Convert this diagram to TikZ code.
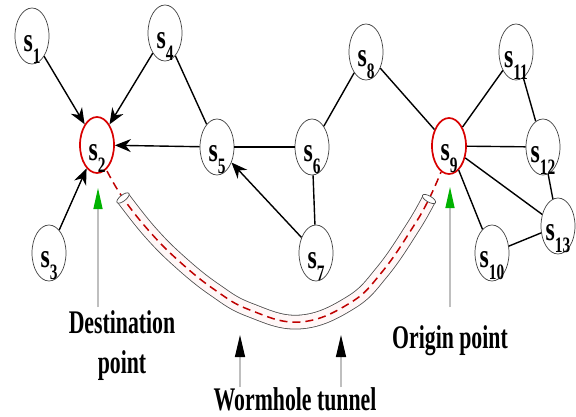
\documentclass[tikz,border=0pt]{standalone}
\usepackage{fontspec}
\usepackage{graphicx}
\setmainfont{Liberation Serif}
\usetikzlibrary{shapes.geometric,arrows.meta}
\newcommand{\snlab}[1]{\scalebox{0.7}[1]{\fontsize{34}{34}\selectfont\bfseries s\raisebox{-12pt}{\fontsize{22}{22}\selectfont #1}}}
\newcommand{\biglab}[1]{\scalebox{0.66}[1]{#1}}
\begin{document}
\begin{tikzpicture}[x=1pt,y=-1pt,
  snode/.style={ellipse, draw=black!75, line width=0.7pt, minimum width=34pt, minimum height=56pt, inner sep=0pt,
    label={[anchor=base, yshift=-13pt, inner sep=0pt]center:\snlab{#1}}},
  hub/.style={draw=red!85!black, line width=1.7pt},
  edge/.style={line width=1.4pt, black},
  arr/.style={edge, -{Stealth[length=16pt,width=13pt]}},
  lead/.style={line width=1.3pt, black!25},
  garr/.style={lead, -{Triangle[length=21pt,width=9pt,color=green!70!black]}},
  barr/.style={lead, -{Triangle[length=22pt,width=10pt,color=black]}},
  lab/.style={font=\fontsize{33}{33}\selectfont\bfseries, inner sep=0pt, anchor=base},
  tube/.style={draw=black!70, line width=0.8pt, double=red!3, double distance=13pt},
  redd/.style={draw=red!75!black, line width=1.5pt, dash pattern=on 8pt off 5pt}
]
\useasboundingbox (0,0) rectangle (576,416);
\fill[white] (0,0) rectangle (576,416);

% tunnel
\draw[tube] plot[smooth, tension=0.7] coordinates {(123,198) (150,232) (180,262) (215,290) (250,310) (300,322) (350,303) (382,272) (413,227) (429,199)};
\draw[redd] plot[smooth, tension=0.7] coordinates {(107,171) (123,198) (150,232) (180,262) (215,290) (250,310) (300,322) (350,303) (382,272) (413,227) (429,199) (441,172)};
\draw[black!70, line width=0.7pt, fill=white, rotate around={38:(123,198)}] (123,198) ellipse (7.5pt and 3pt);
\draw[black!70, line width=0.7pt, fill=white, rotate around={-30:(429,199)}] (429,199) ellipse (7.5pt and 3pt);

% nodes
\node[snode=1] (s1) at (32,36) {};
\node[snode=2, hub] (s2) at (97,145) {};
\node[snode=3] (s3) at (49,253) {};
\node[snode=4] (s4) at (165,33) {};
\node[snode=5] (s5) at (217,147) {};
\node[snode=6] (s6) at (312,147) {};
\node[snode=7] (s7) at (316,253) {};
\node[snode=8] (s8) at (366,52) {};
\node[snode=9, hub] (s9) at (449,146) {};
\node[snode=10] (s10) at (492,253) {};
\node[snode=11] (s11) at (516,52) {};
\node[snode=12] (s12) at (543,147) {};
\node[snode=13] (s13) at (558,226) {};

% edges
\draw[arr] (s1) -- (s2);
\draw[arr] (s4) -- (s2);
\draw[arr] (s3) -- (s2);
\draw[arr] (s5) -- (s2);
\draw[edge] (s4) -- (s5);
\draw[edge] (s5) -- (s6);
\draw[arr] (s7) -- (s5);
\draw[edge] (s6) -- (s7);
\draw[edge] (s6) -- (s8);
\draw[edge] (s8) -- (s9);
\draw[edge] (s9) -- (s11);
\draw[edge] (s9) -- (s12);
\draw[edge] (s9) -- (s13);
\draw[edge] (s9) -- (s10);
\draw[edge] (s11) -- (s12);
\draw[edge] (s12) -- (s13);
\draw[edge] (s10) -- (s13);

% labels
\node[lab] (dest1) at (122,333) {\biglab{Destination}};
\node[lab] (dest2) at (122,373) {\biglab{point}};
\node[lab] (orig) at (450,348) {\biglab{Origin point}};
\node[lab] (worm) at (295,410) {\biglab{Wormhole tunnel}};

\coordinate (dbot) at (98,307);
\coordinate (dtip) at (98,188);
\coordinate (obot) at (450,307);
\coordinate (otip) at (450,187);
\coordinate (w1b) at (240,387);
\coordinate (w1t) at (240,335);
\coordinate (w2b) at (341,387);
\coordinate (w2t) at (341,335);
\draw[garr] (dbot) -- (dtip);
\draw[garr] (obot) -- (otip);
\draw[barr] (w1b) -- (w1t);
\draw[barr] (w2b) -- (w2t);
\end{tikzpicture}
\end{document}
